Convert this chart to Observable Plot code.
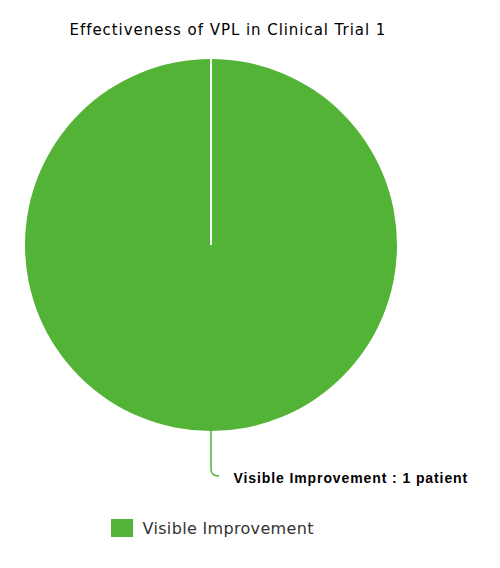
<!DOCTYPE html>
<html><head><meta charset="utf-8">
<script src="https://cdn.jsdelivr.net/npm/d3@7"></script>
<script src="https://cdn.jsdelivr.net/npm/@observablehq/plot@0.6"></script>
<style>body{margin:0;background:#fff}#chart svg{display:block}
.ttl{letter-spacing:0.95px}.lbl{letter-spacing:0.9px}.leg{letter-spacing:0.33px}</style>
</head><body><div id="chart"></div>
<script>
const title = "Effectiveness of VPL in Clinical Trial 1";
const categories = ["Visible Improvement"];
const values = [1];
const units = ["patient"];
const colors = ["#53b336"];

const W = 500, H = 568;
const CX = 211, CY = 245, R = 186;

const data = categories.map((c, i) => ({category: c, value: values[i], unit: units[i], color: colors[i]}));
const arcs = d3.pie().sort(null).value(d => d.value)(data);

function pieMark(index, scales) {
  const g = d3.create("svg:g");
  const x0 = scales.x(CX), y0 = scales.y(CY);
  const r = scales.x(CX + R) - x0;
  const arc = d3.arc().innerRadius(0).outerRadius(r);
  const gg = g.append("g").attr("transform", `translate(${x0},${y0})`);
  gg.selectAll("path.s").data(arcs).join("path").attr("class", "s")
    .attr("d", arc).attr("fill", d => d.data.color);
  gg.selectAll("line.sep").data(arcs).join("line").attr("class", "sep")
    .attr("x1", 0).attr("y1", 0)
    .attr("x2", d => r * Math.sin(d.startAngle))
    .attr("y2", d => -r * Math.cos(d.startAngle))
    .attr("stroke", "#fff").attr("stroke-width", 2);
  arcs.forEach(d => {
    const a = (d.startAngle + d.endAngle) / 2;
    const sx = r * Math.sin(a), sy = -r * Math.cos(a);
    const ey = sy + 38;
    gg.append("path")
      .attr("d", `M${sx},${sy} L${sx},${ey} Q${sx},${ey + 7} ${sx + 8},${ey + 7}`)
      .attr("fill", "none").attr("stroke", d.data.color).attr("stroke-width", 1.5);
  });
  return g.node();
}

const labels = arcs.map(d => ({text: `${d.data.category} : ${d.value} ${d.data.unit}`}));

const chart = Plot.plot({
  width: W, height: H,
  margin: 0,
  x: {domain: [0, W], range: [0, W], axis: null},
  y: {domain: [0, H], range: [0, H], axis: null},
  marks: [
    pieMark,
    Plot.text([title], {x: () => 69, y: () => 30, text: d => d, textAnchor: "start", fontSize: 15, fontFamily: "DejaVu Sans", fill: "#000", className: "ttl"}),
    Plot.text(labels, {x: () => 233, y: () => 478, text: "text", textAnchor: "start", fontSize: 14, fontWeight: "bold", fontFamily: "Liberation Sans", fill: "#000", className: "lbl"}),
    Plot.rect(data, {x1: () => 111, x2: () => 133, y1: () => 519, y2: () => 537, fill: "color"}),
    Plot.text(data, {x: () => 142, y: () => 528, text: "category", textAnchor: "start", fontSize: 16, fontFamily: "DejaVu Sans", fill: "#333", className: "leg"})
  ]
});
document.getElementById("chart").appendChild(chart);
</script>
</body></html>
